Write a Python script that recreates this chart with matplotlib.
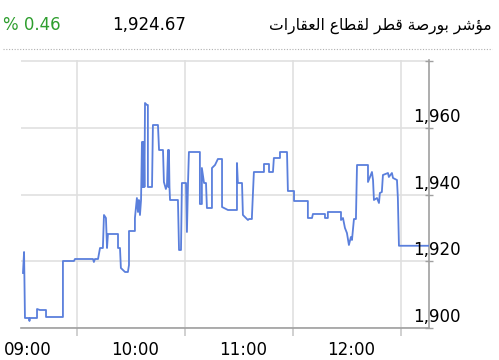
import matplotlib.pyplot as plt
from matplotlib.lines import Line2D

# header texts
title_ar = "مؤشر بورصة قطر لقطاع العقارات"
last_value = "1,924.67"
change_pct = "% 0.46"

# minutes after 09:30 (market open) and index level
minutes = [0.0, 0.6, 1.1, 3.3, 3.6, 3.9, 7.8, 7.8, 9.4, 12.8, 12.8, 22.2, 22.2, 28.3, 28.9,
           38.9, 39.4, 40.0, 41.7, 42.8, 44.4, 45.0, 46.1, 46.7, 47.2, 52.8, 52.8, 53.9,
           54.4, 56.7, 58.3, 58.9, 58.9, 62.2, 62.2, 63.3, 63.9, 64.4, 65.0, 65.6, 66.1,
           66.4, 66.7, 66.9, 67.2, 67.5, 67.8, 68.9, 69.4, 69.4, 71.7, 72.2, 75.0, 75.6,
           77.8, 78.3, 79.4, 80.0, 80.6, 80.8, 81.1, 81.4, 81.7, 86.1, 86.7, 87.8, 88.3,
           90.6, 91.1, 91.7, 92.2, 98.3, 98.3, 99.4, 99.4, 100.6, 101.7, 102.2, 105.0,
           105.0, 106.7, 108.3, 110.6, 110.6, 113.9, 118.9, 118.9, 119.4, 121.7, 122.2,
           125.0, 125.6, 127.2, 127.2, 128.3, 133.9, 133.9, 136.7, 136.7, 138.9, 139.4,
           142.8, 142.8, 146.7, 147.2, 150.6, 150.6, 158.3, 158.3, 160.6, 161.1, 167.8,
           167.8, 169.4, 169.4, 176.7, 176.7, 177.8, 178.9, 180.0, 181.1, 182.2, 182.8,
           183.9, 185.0, 185.6, 191.7, 191.7, 192.8, 193.9, 194.5, 195.0, 196.7, 197.8,
           198.3, 199.4, 200.0, 202.8, 203.3, 205.0, 205.6, 207.8, 208.3, 208.9, 225.6]
values = [1916.5, 1922.8, 1903.0, 1903.0, 1902.1, 1903.0, 1903.0, 1905.7, 1905.4, 1905.4,
          1903.3, 1903.3, 1920.1, 1920.1, 1920.7, 1920.7, 1919.8, 1920.7, 1920.7, 1924.0,
          1924.0, 1933.9, 1933.0, 1924.0, 1928.2, 1928.2, 1924.0, 1924.0, 1918.0, 1916.8,
          1916.8, 1918.9, 1929.1, 1929.1, 1933.0, 1939.0, 1934.8, 1938.4, 1933.9, 1938.4,
          1955.8, 1942.3, 1955.8, 1942.3, 1955.8, 1942.3, 1967.5, 1966.9, 1966.9, 1942.3,
          1942.3, 1960.9, 1960.9, 1953.4, 1953.4, 1943.8, 1941.7, 1942.9, 1953.4, 1942.3,
          1953.4, 1942.3, 1938.4, 1938.4, 1923.4, 1923.4, 1943.5, 1943.5, 1928.8, 1943.5,
          1952.8, 1952.8, 1937.2, 1937.2, 1948.0, 1943.5, 1943.5, 1936.0, 1936.0, 1948.0,
          1948.9, 1950.7, 1950.7, 1936.3, 1935.4, 1935.4, 1949.5, 1943.5, 1943.5, 1933.9,
          1932.4, 1932.7, 1932.7, 1933.3, 1946.8, 1946.8, 1949.2, 1949.2, 1946.8, 1946.8,
          1951.0, 1951.0, 1952.8, 1952.8, 1941.1, 1941.1, 1938.1, 1938.1, 1933.0, 1933.0,
          1934.2, 1934.2, 1933.0, 1933.0, 1934.8, 1934.8, 1932.4, 1933.0, 1930.0, 1928.5,
          1924.9, 1927.3, 1926.4, 1932.7, 1932.7, 1948.9, 1948.9, 1943.8, 1945.3, 1946.8,
          1944.4, 1938.4, 1939.0, 1937.5, 1940.5, 1940.8, 1945.9, 1946.5, 1945.3, 1946.5,
          1945.0, 1944.4, 1939.0, 1924.67, 1924.67]

hour_labels = ["09:00", "10:00", "11:00", "12:00"]
hour_label_pos = [2.5, 62.5, 122.5, 182.5]
hour_grid = [30, 90, 150, 210]
y_grid = [1900, 1920, 1940, 1960, 1980]
y_labels = [1900, 1920, 1940, 1960]

# simple arabic shaping (matplotlib has no complex text layout)
# forms: isolated, final, initial, medial
forms = {
    'ا': ('\uFE8D', '\uFE8E', None, None),
    'ب': ('\uFE8F', '\uFE90', '\uFE91', '\uFE92'),
    'ة': ('\uFE93', '\uFE94', None, None),
    'ت': ('\uFE95', '\uFE96', '\uFE97', '\uFE98'),
    'ر': ('\uFEAD', '\uFEAE', None, None),
    'ش': ('\uFEB5', '\uFEB6', '\uFEB7', '\uFEB8'),
    'ص': ('\uFEB9', '\uFEBA', '\uFEBB', '\uFEBC'),
    'ط': ('\uFEC1', '\uFEC2', '\uFEC3', '\uFEC4'),
    'ع': ('\uFEC9', '\uFECA', '\uFECB', '\uFECC'),
    'ق': ('\uFED5', '\uFED6', '\uFED7', '\uFED8'),
    'ل': ('\uFEDD', '\uFEDE', '\uFEDF', '\uFEE0'),
    'م': ('\uFEE1', '\uFEE2', '\uFEE3', '\uFEE4'),
    'و': ('\uFEED', '\uFEEE', None, None),
    'ؤ': ('\uFE85', '\uFE86', None, None),
}


def shape(text):
    out = []
    for i, ch in enumerate(text):
        if ch not in forms:
            out.append(ch)
            continue
        prv = text[i - 1] if i > 0 else ''
        nxt = text[i + 1] if i + 1 < len(text) else ''
        f = forms[ch]
        jp = prv in forms and forms[prv][2] is not None
        jn = nxt in forms and f[2] is not None
        if jp and jn:
            out.append(f[3])
        elif jp:
            out.append(f[1])
        elif jn:
            out.append(f[2])
        else:
            out.append(f[0])
    return ''.join(out)[::-1]


fig = plt.figure(figsize=(4.99, 3.6), dpi=100)
ax = fig.add_axes([21 / 499, 1 - 328 / 360, 408 / 499, 268 / 360])

ax.plot(minutes, values, color='#5a7fdc', lw=1.3, zorder=3)

ax.set_xlim(-1.1, 225.6)
ax.set_ylim(1900, 1980.4)

ax.set_xticks(hour_label_pos)
ax.set_xticklabels(hour_labels)
ax.set_xticks(hour_grid, minor=True)
ax.tick_params(axis='x', which='major', length=0, pad=9.5, labelsize=12, colors='black')
ax.tick_params(axis='x', which='minor', length=6, width=1.2, color='#c8c8c8', direction='out')
ax.grid(axis='x', which='minor', color='#e0e0e0', lw=1.2)

ax.yaxis.tick_right()
ax.set_yticks(y_grid)
ax.tick_params(axis='y', direction='inout', length=6, width=1.0, color='#a0a0a0', labelright=False)
ax.grid(axis='y', which='major', color='#e0e0e0', lw=1.2)

for v in y_labels:
    ax.text(0.961, v + 1.8, f"{v:,}", transform=ax.get_yaxis_transform(),
            ha='left', va='baseline', fontsize=12, zorder=5)

for s in ['top', 'left']:
    ax.spines[s].set_visible(False)
ax.spines['right'].set_color('#a0a0a0')
ax.spines['bottom'].set_color('#a0a0a0')
ax.spines['right'].set_linewidth(1.2)
ax.spines['bottom'].set_linewidth(1.2)

# header
fig.text(3 / 499, 1 - 29.5 / 360, change_pct, color='#2e9e2e', fontsize=12, ha='left', va='baseline')
fig.text(112 / 499, 1 - 29.5 / 360, last_value, color='black', fontsize=12, ha='left', va='baseline')
fig.text(492 / 499, 1 - 29.5 / 360, shape(title_ar), color='black', fontsize=11.2, ha='right', va='baseline')
fig.add_artist(Line2D([3 / 499, 492 / 499], [1 - 49 / 360, 1 - 49 / 360], transform=fig.transFigure,
                      color='#b0b0b0', lw=0.8, linestyle=(0, (1, 1.5))))

plt.savefig('out.png', dpi=100)
